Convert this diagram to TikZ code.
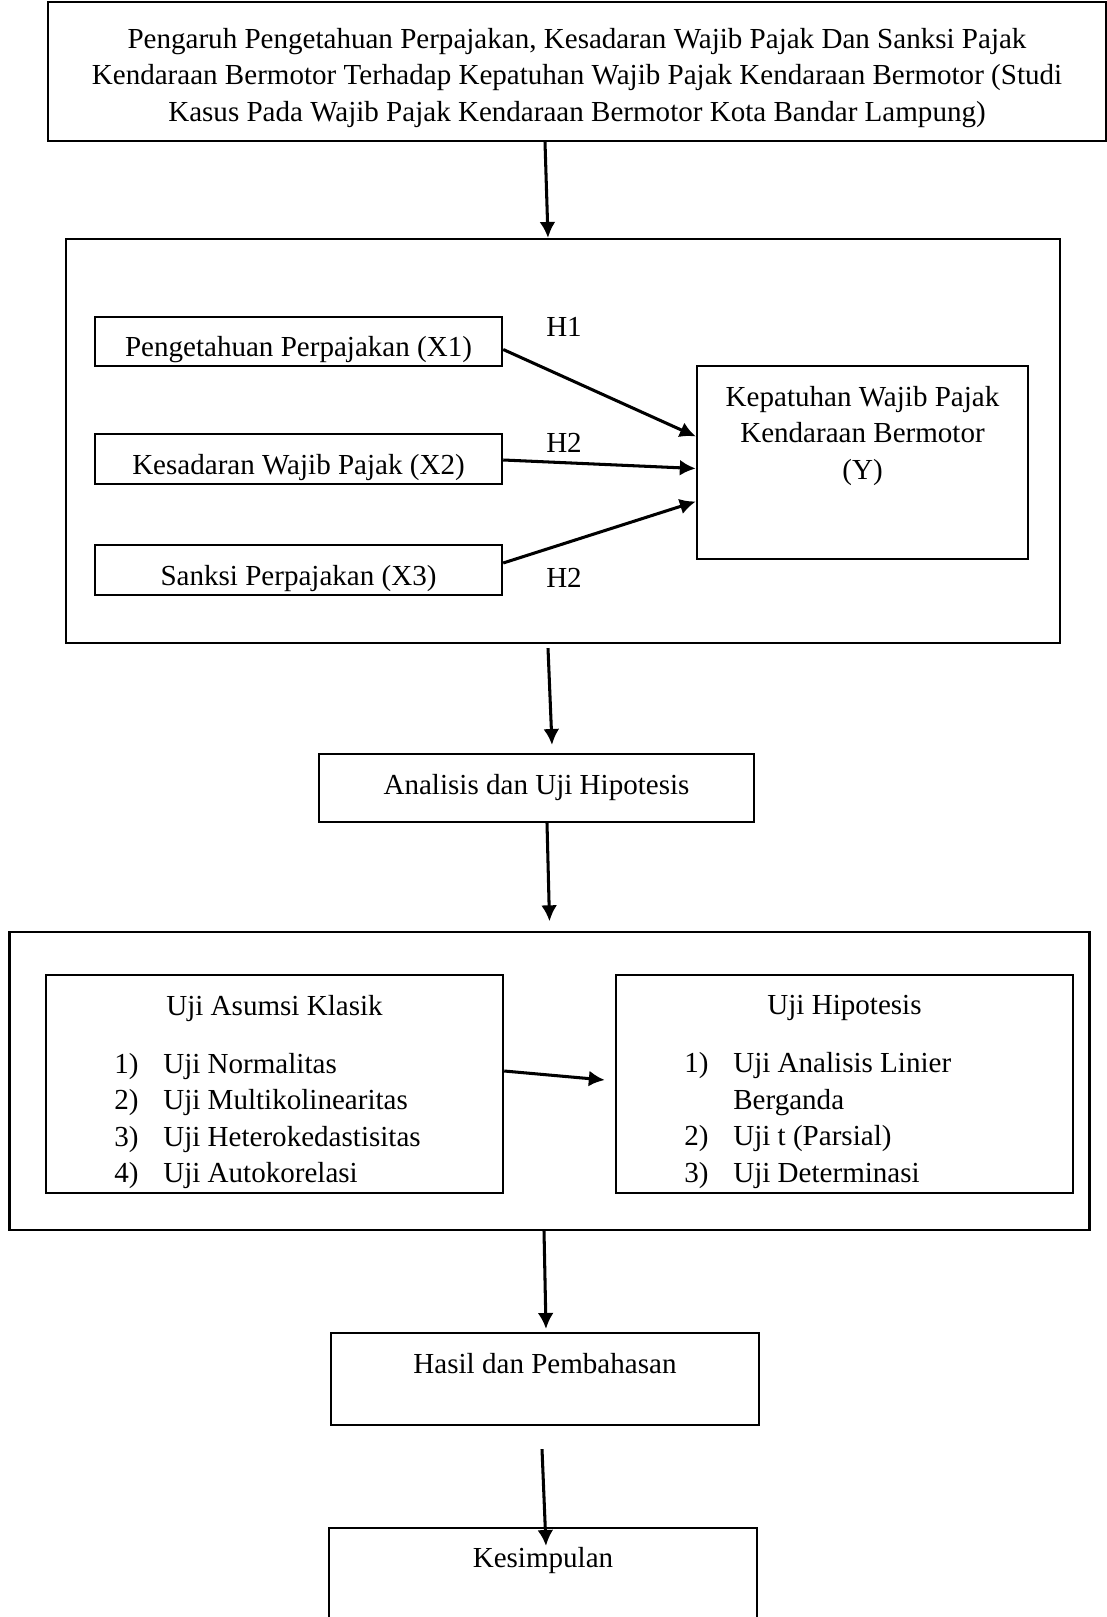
\documentclass[tikz,border=0pt]{standalone}
\usepackage{fontspec}
\setmainfont{Liberation Serif}
\usetikzlibrary{arrows.meta,calc}

\tikzset{
  kotak/.style={draw,line width=0.9pt,align=center,inner sep=0pt},
  isi/.style={kotak,text height=13pt,text depth=0pt},
  teks/.style={align=center,inner sep=0pt},
  panah/.style={line width=1.3pt,-{Latex[length=6.8pt,width=6.8pt]}}
}

\begin{document}
\begin{tikzpicture}[x=0.015cm,y=-0.015cm,font=\fontsize{12.4}{15.6}\selectfont]
\useasboundingbox (0,0) rectangle (1107,1617);

\node[kotak,minimum width=15.87cm,minimum height=2.09cm] (judul) at (577,71.5) {};
\node[teks] (judultext) at (577,77.7)
  {Pengaruh Pengetahuan Perpajakan, Kesadaran Wajib Pajak Dan Sanksi Pajak\\
   Kendaraan Bermotor Terhadap Kepatuhan Wajib Pajak Kendaraan Bermotor (Studi\\
   Kasus Pada Wajib Pajak Kendaraan Bermotor Kota Bandar Lampung)};

\node[kotak,minimum width=14.91cm,minimum height=6.06cm] (model) at (563,441) {};
\node[isi,minimum width=6.11cm,minimum height=0.74cm] (x1) at (298.5,341.5) {Pengetahuan Perpajakan (X1)};
\node[isi,minimum width=6.11cm,minimum height=0.75cm] (x2) at (298.5,459) {Kesadaran Wajib Pajak (X2)};
\node[isi,minimum width=6.11cm,minimum height=0.75cm] (x3) at (298.5,570) {Sanksi Perpajakan (X3)};
\node[kotak,minimum width=4.97cm,minimum height=2.90cm] (y) at (862.5,462.5) {};
\node[teks] (ytext) at (862.5,436) {Kepatuhan Wajib Pajak\\Kendaraan Bermotor\\(Y)};
\node[teks] (h1) at (564,327) {H1};
\node[teks] (h2) at (564,443) {H2};
\node[teks] (h3) at (564,578) {H2};
\draw[panah] ($(x1.east)+(0,8)$) -- ($(y.west)+(0,-26)$);
\draw[panah] ($(x2.east)+(0,1)$) -- ($(y.west)+(0,6)$);
\draw[panah] ($(x3.east)+(0,-7)$) -- ($(y.west)+(0,39)$);

\node[kotak,minimum width=6.53cm,minimum height=1.02cm] (analisis) at (536.5,788) {Analisis dan Uji Hipotesis};

\node[kotak,minimum width=16.2cm,minimum height=4.46cm] (uji) at (549.5,1081) {};
\node[kotak,minimum width=6.86cm,minimum height=3.27cm] (asumsi) at (274.5,1084) {};
\node[teks] (asumsitext) at (274.5,1094.5)
  {Uji Asumsi Klasik\\[9pt]
   \begin{tabular}[t]{@{}p{0.735cm}@{}p{4.07cm}@{}}
   1) & Uji Normalitas\\
   2) & Uji Multikolinearitas\\
   3) & Uji Heterokedastisitas\\
   4) & Uji Autokorelasi
   \end{tabular}};
\node[kotak,minimum width=6.86cm,minimum height=3.27cm] (hipotesis) at (844.5,1084) {};
\node[teks] (hipotesistext) at (844.5,1094.5)
  {Uji Hipotesis\\[9pt]
   \begin{tabular}[t]{@{}p{0.735cm}@{}p{4.07cm}@{}}
   1) & Uji Analisis Linier\\
      & Berganda\\
   2) & Uji t (Parsial)\\
   3) & Uji Determinasi
   \end{tabular}};
\draw[panah] ($(asumsi.east)+(0,-13)$) -- ($(hipotesis.west)+(-10,-4)$);

\node[kotak,minimum width=6.42cm,minimum height=1.38cm] (hasil) at (545,1379) {};
\node[teks] (hasiltext) at (545,1364) {Hasil dan Pembahasan};
\node[kotak,minimum width=6.42cm,minimum height=1.38cm] (kesimpulan) at (543,1574) {};
\node[teks] (kesimpulantext) at (543,1560) {Kesimpulan};

\draw[panah] ($(judul.south)+(-32,0)$) -- ($(model.north)+(-15,0)$);
\draw[panah] ($(model.south)+(-15,4)$) -- ($(analisis.north)+(15.5,-8)$);
\draw[panah] ($(analisis.south)+(10.5,0)$) -- ($(uji.north)+(0,-10)$);
\draw[panah] ($(uji.south)+(-5.5,0)$) -- ($(hasil.north)+(1,-3)$);
\draw[panah] ($(hasil.south)+(-3,23)$) -- ($(kesimpulan.north)+(3,19)$);
\end{tikzpicture}
\end{document}
